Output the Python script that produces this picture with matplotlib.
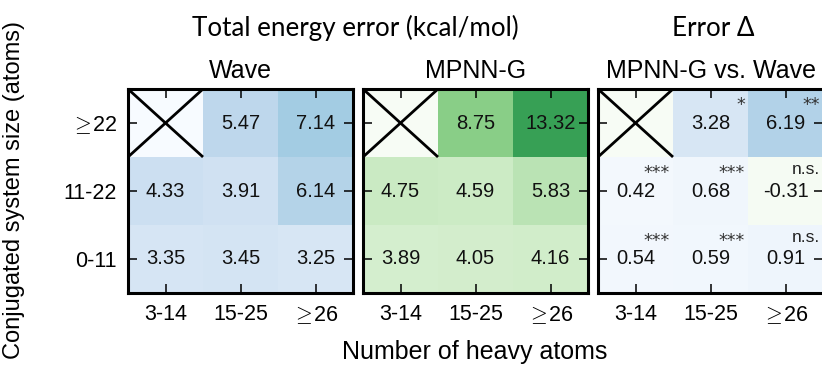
import numpy as np
import matplotlib
matplotlib.use("Agg")
import matplotlib.pyplot as plt
from matplotlib.colors import ListedColormap, Normalize

plt.rcParams["font.family"] = ["Liberation Sans", "DejaVu Sans"]
plt.rcParams["mathtext.fontset"] = "cm"

# Bins
row_labels = [r"$\geq\!$22", "11-22", "0-11"]   # conjugated system size, top to bottom
col_labels = ["3-14", "15-25", r"$\geq\!$26"]   # number of heavy atoms

# Mean total energy error (kcal/mol); NaN = empty bin
wave_err = [[np.nan, 5.47, 7.14],
            [4.33, 3.91, 6.14],
            [3.35, 3.45, 3.25]]
mpnn_err = [[np.nan, 8.75, 13.32],
            [4.75, 4.59, 5.83],
            [3.89, 4.05, 4.16]]
delta_err = [[np.nan, 3.28, 6.19],
             [0.42, 0.68, -0.31],
             [0.54, 0.59, 0.91]]
significance = [["", "*", "**"],
                ["***", "***", "n.s."],
                ["***", "***", "n.s."]]

VMAX = 20.0

blues = plt.get_cmap("Blues")
greens = plt.get_cmap("Greens")
cm_wave = blues.with_extremes(bad=blues(0.0))
cm_mpnn = greens.with_extremes(bad=greens(0.0))
div_colors = np.vstack([greens(np.linspace(1, 0, 256)), blues(np.linspace(0, 1, 256))])
cm_delta = ListedColormap(div_colors).with_extremes(bad=greens(0.0))

W, H = 822, 369
fig = plt.figure(figsize=(W / 100, H / 100), dpi=100)


def px_axes(left, top, right, bottom):
    return fig.add_axes([left / W, 1 - bottom / H, (right - left) / W, (bottom - top) / H])


panels = [
    (px_axes(128, 89, 353, 293), wave_err, cm_wave, Normalize(0, VMAX), "Wave", None),
    (px_axes(363, 89, 588, 293), mpnn_err, cm_mpnn, Normalize(0, VMAX), "MPNN-G", None),
    (px_axes(598, 89, 823, 293), delta_err, cm_delta, Normalize(-VMAX, VMAX), "MPNN-G vs. Wave", significance),
]

for i, (ax, data, cmap, norm, title, sig) in enumerate(panels):
    arr = np.ma.masked_invalid(np.array(data, dtype=float))
    ax.imshow(arr, cmap=cmap, norm=norm, aspect="auto",
              extent=(-0.5, 2.5, 2.5, -0.5), interpolation="nearest")
    ax.set_xlim(-0.5, 2.5)
    ax.set_ylim(2.5, -0.5)
    for r in range(3):
        for c in range(3):
            v = data[r][c]
            if np.isnan(v):
                ax.plot([-0.5, 0.5], [-0.5, 0.5], color="black", lw=2.0, solid_capstyle="butt")
                ax.plot([-0.5, 0.5], [0.5, -0.5], color="black", lw=2.0, solid_capstyle="butt")
                continue
            ax.text(c, r, f"{v:.2f}", ha="center", va="center", fontsize=14.5, color="#111111")
            if sig is not None and sig[r][c]:
                s = sig[r][c]
                if s == "n.s.":
                    ax.text(c + 0.46, r - 0.31, s, ha="right", va="center",
                            fontsize=12.5, color="#222222")
                else:
                    ax.text(c + 0.46, r - 0.27, s, ha="right", va="center",
                            fontsize=12.5, color="#333333", family=["DejaVu Sans"])
    ax.set_xticks(range(3))
    ax.set_yticks(range(3))
    ax.set_xticklabels(col_labels)
    if i == 0:
        ax.set_yticklabels(row_labels)
    else:
        ax.set_yticklabels([])
    ax.tick_params(direction="in", length=6.5, width=1.1, top=True, right=True,
                   labelsize=15.5, pad=8, color="black")
    for sp in ax.spines.values():
        sp.set_linewidth(2.2)
    ax.set_title(title, fontsize=18, pad=8)

fig.text(355 / W, 1 - 28 / H, "Total energy error (kcal/mol)", ha="center", va="center",
         fontsize=18.7, family=["Lato", "DejaVu Sans"])
fig.text(713 / W, 1 - 28 / H, "Error Δ", ha="center", va="center",
         fontsize=18.7, family=["Lato", "DejaVu Sans"])
fig.text(475 / W, 1 - 352 / H, "Number of heavy atoms", ha="center", va="center", fontsize=18)
fig.text(14 / W, 1 - 190 / H, "Conjugated system size (atoms)", ha="center", va="center",
         rotation=90, fontsize=17)

fig.savefig("out.png", dpi=100)
